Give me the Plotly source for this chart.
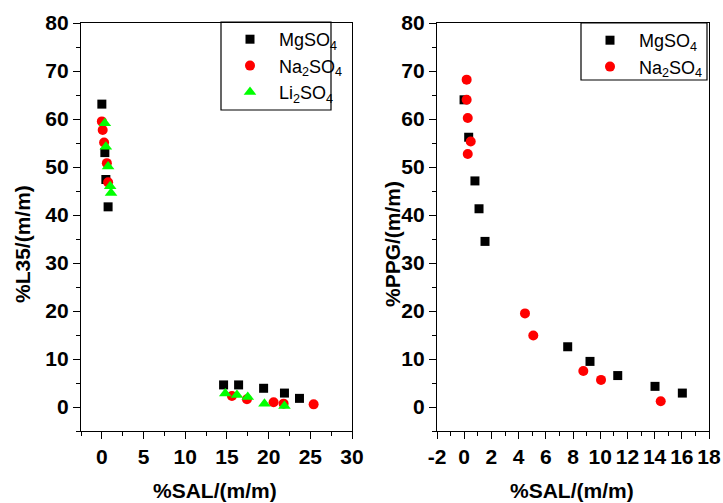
import plotly.graph_objects as go

# ---- data: %L35 vs %SAL (left panel) ----
l35_mg_x = [0.0, 0.36, 0.48, 0.75, 14.6, 16.4, 19.4, 21.9, 23.7]
l35_mg_y = [63.1, 53.0, 47.4, 41.7, 4.6, 4.6, 3.9, 2.9, 1.8]
l35_na_x = [0.0, 0.1, 0.27, 0.6, 0.75, 15.6, 17.4, 20.6, 21.8, 25.4]
l35_na_y = [59.5, 57.7, 55.1, 50.8, 46.8, 2.3, 1.6, 1.0, 0.7, 0.55]
l35_li_x = [0.36, 0.48, 0.75, 1.0, 1.1, 14.8, 16.2, 17.5, 19.5, 21.9]
l35_li_y = [59.1, 54.2, 50.1, 46.0, 44.6, 2.8, 2.5, 2.1, 0.7, 0.2]

# ---- data: %PPG vs %SAL (right panel) ----
ppg_mg_x = [-0.01, 0.33, 0.79, 1.09, 1.53, 7.61, 9.25, 11.29, 14.03, 16.04]
ppg_mg_y = [64.0, 56.2, 47.1, 41.3, 34.5, 12.55, 9.5, 6.55, 4.3, 2.9]
ppg_na_x = [0.18, 0.18, 0.26, 0.48, 0.26, 4.47, 5.08, 8.76, 10.06, 14.45]
ppg_na_y = [68.2, 64.0, 60.2, 55.3, 52.7, 19.5, 14.9, 7.5, 5.65, 1.2]

names = ["MgSO<sub>4</sub>", "Na<sub>2</sub>SO<sub>4</sub>", "Li<sub>2</sub>SO<sub>4</sub>"]

# tick labels (plain hyphen for negatives)
y_ticks = [0, 10, 20, 30, 40, 50, 60, 70, 80]
x1_ticks = [0, 5, 10, 15, 20, 25, 30]
x2_ticks = [-2, 0, 2, 4, 6, 8, 10, 12, 14, 16, 18]

W, H = 723, 503
FONT = "Liberation Sans, Arial, sans-serif"

def px_x(p):
    return p / W

def px_y(p):
    return 1 - p / H

sq = dict(symbol="square", size=9, color="black")
ci = dict(symbol="circle", size=10, color="red")
tr = dict(symbol="triangle-up", size=11, color="#00ff00")

fig = go.Figure()
fig.add_trace(go.Scatter(x=l35_mg_x, y=l35_mg_y, mode="markers", marker=sq,
                         name=names[0], xaxis="x", yaxis="y", legend="legend"))
fig.add_trace(go.Scatter(x=l35_na_x, y=l35_na_y, mode="markers", marker=ci,
                         name=names[1], xaxis="x", yaxis="y", legend="legend"))
fig.add_trace(go.Scatter(x=l35_li_x, y=l35_li_y, mode="markers", marker=tr,
                         name=names[2], xaxis="x", yaxis="y", legend="legend"))
fig.add_trace(go.Scatter(x=ppg_mg_x, y=ppg_mg_y, mode="markers", marker=sq,
                         name=names[0], xaxis="x2", yaxis="y2", legend="legend2"))
fig.add_trace(go.Scatter(x=ppg_na_x, y=ppg_na_y, mode="markers", marker=ci,
                         name=names[1], xaxis="x2", yaxis="y2", legend="legend2"))

tickfont = dict(family=FONT, size=21, color="black", weight="bold")
common = dict(showline=True, linecolor="black", linewidth=1.3, mirror=True,
              showgrid=False, zeroline=False, ticks="outside", ticklen=7,
              tickwidth=1.3, tickcolor="black", tickfont=tickfont,
              automargin=False, tickmode="array")
minor_common = dict(ticklen=4, ticks="outside", tickcolor="black", tickwidth=1.3)

ydom = [px_y(431), px_y(23)]
fig.update_layout(
    width=W, height=H,
    margin=dict(l=0, r=0, t=0, b=0),
    paper_bgcolor="white", plot_bgcolor="white",
    xaxis=dict(domain=[px_x(81), px_x(352)], range=[-2.5, 30],
               tickvals=x1_ticks, ticktext=[str(v) for v in x1_ticks],
               minor=dict(tick0=0, dtick=2.5, **minor_common),
               anchor="y", **common),
    yaxis=dict(domain=ydom, range=[-5, 80],
               tickvals=y_ticks, ticktext=[str(v) for v in y_ticks],
               minor=dict(tick0=0, dtick=5, **minor_common),
               anchor="x", **common),
    xaxis2=dict(domain=[px_x(437), px_x(709)], range=[-2, 18],
                tickvals=x2_ticks, ticktext=[str(v) for v in x2_ticks],
                minor=dict(tick0=0, dtick=1, **minor_common),
                anchor="y2", **common),
    yaxis2=dict(domain=ydom, range=[-5, 80],
                tickvals=y_ticks, ticktext=[str(v) for v in y_ticks],
                minor=dict(tick0=0, dtick=5, **minor_common),
                anchor="x2", **common),
    legend=dict(x=px_x(221), y=px_y(21), xanchor="left", yanchor="top",
                bgcolor="rgba(0,0,0,0)", borderwidth=0, itemwidth=48,
                font=dict(family=FONT, size=18, color="black")),
    legend2=dict(x=px_x(581), y=px_y(22), xanchor="left", yanchor="top",
                 bgcolor="rgba(0,0,0,0)", borderwidth=0, itemwidth=48,
                 font=dict(family=FONT, size=18, color="black")),
    showlegend=True,
)

# legend frames
for x0, y0, x1, y1 in [(221, 22, 331, 110), (581, 23, 707, 80)]:
    fig.add_shape(type="rect", xref="paper", yref="paper",
                  x0=px_x(x0), x1=px_x(x1), y0=px_y(y1), y1=px_y(y0),
                  line=dict(color="black", width=1.2), fillcolor="rgba(0,0,0,0)")

titlefont = dict(family=FONT, size=21, color="black", weight="bold")
ytitlefont = dict(family=FONT, size=21, color="black", weight="bold")
fig.add_annotation(text="%SAL/(m/m)", x=px_x(215), y=px_y(490), xref="paper", yref="paper",
                   showarrow=False, font=titlefont, xanchor="center", yanchor="middle")
fig.add_annotation(text="%SAL/(m/m)", x=px_x(572), y=px_y(490), xref="paper", yref="paper",
                   showarrow=False, font=titlefont, xanchor="center", yanchor="middle")
fig.add_annotation(text="%L35/(m/m)", x=px_x(22), y=px_y(244), xref="paper", yref="paper",
                   showarrow=False, font=ytitlefont, textangle=-90,
                   xanchor="center", yanchor="middle")
fig.add_annotation(text="%PPG/(m/m)", x=px_x(392), y=px_y(244), xref="paper", yref="paper",
                   showarrow=False, font=ytitlefont, textangle=-90,
                   xanchor="center", yanchor="middle")

fig.write_html("out.html")
